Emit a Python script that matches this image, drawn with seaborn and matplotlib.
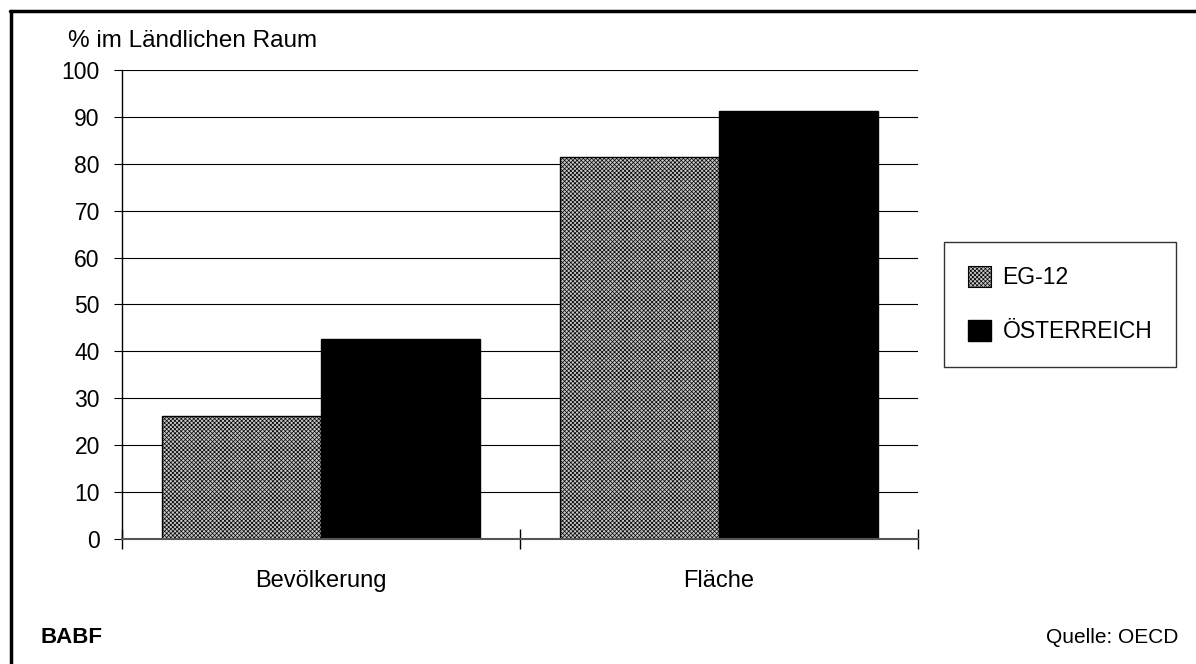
import matplotlib
matplotlib.use("Agg")
from matplotlib import pyplot as plt
from matplotlib.patches import Patch
from matplotlib.lines import Line2D
import pandas as pd
import seaborn as sns

# data
kategorien = ["Bevölkerung", "Fläche"]
gruppen = ["EG-12", "ÖSTERREICH"]
eg12 = [26.2, 81.5]
oesterreich = [42.6, 91.2]
y_ticks = [0, 10, 20, 30, 40, 50, 60, 70, 80, 90, 100]

df = pd.DataFrame({
    "Kategorie": kategorien * 2,
    "Gruppe": [gruppen[0]] * 2 + [gruppen[1]] * 2,
    "Wert": eg12 + oesterreich,
})

sns.set_theme(style="white")
plt.rcParams["font.family"] = ["Liberation Sans", "DejaVu Sans"]
plt.rcParams["text.color"] = "black"
plt.rcParams["xtick.color"] = "black"
plt.rcParams["ytick.color"] = "black"
plt.rcParams["hatch.linewidth"] = 0.5
plt.rcParams["hatch.color"] = "black"

fig = plt.figure(figsize=(11.96, 6.64), dpi=100)
ax = fig.add_axes([0.102, 0.1883, 0.6656, 0.7063])

sns.barplot(data=df, x="Kategorie", y="Wert", hue="Gruppe", order=kategorien,
            hue_order=gruppen, palette=["white", "black"], width=0.8,
            edgecolor="black", linewidth=1, saturation=1, legend=False, ax=ax)

for bar in ax.containers[0]:
    bar.set_hatch("xxxxxxxx")
    bar.set_facecolor("#c8c8c8")

ax.set_xlim(-0.5, 1.5)
ax.set_ylim(0, 100)
ax.set_yticks(y_ticks)
ax.yaxis.grid(True, color="black", linewidth=0.8)
ax.set_axisbelow(True)
ax.tick_params(axis="y", which="major", left=True, length=6, width=0.8,
               color="black", labelsize=16.5, pad=10)

# category boundaries as major ticks, names as minor labels
ax.set_xticks([-0.5, 0.5, 1.5])
ax.set_xticklabels(["", "", ""])
ax.set_xticks([0, 1], minor=True)
ax.set_xticklabels(kategorien, minor=True)
ax.tick_params(axis="x", which="major", bottom=True, direction="inout",
               length=14, width=1, color="black")
ax.tick_params(axis="x", which="minor", bottom=False, length=0,
               labelsize=17, pad=22)
ax.set_xlabel("")
ax.set_ylabel("")

for s in ["top", "right"]:
    ax.spines[s].set_visible(False)
ax.spines["left"].set_color("black")
ax.spines["left"].set_linewidth(1)
ax.spines["bottom"].set_color("#555555")
ax.spines["bottom"].set_linewidth(1.5)

fig.text(68 / 1196, 1 - 47 / 664, "% im Ländlichen Raum", fontsize=17.5,
         ha="left", va="baseline")
fig.text(40 / 1196, 1 - 643 / 664, "BABF", fontsize=16, fontweight="bold",
         ha="left", va="baseline")
fig.text(1178 / 1196, 1 - 643 / 664, "Quelle: OECD", fontsize=15,
         ha="right", va="baseline")

handles = [Patch(facecolor="#c8c8c8", edgecolor="black", hatch="xxxxxxxx", linewidth=0.8),
           Patch(facecolor="black", edgecolor="black")]
leg = fig.legend(handles, gruppen, loc="upper left",
                 bbox_to_anchor=(944 / 1196, 1 - 242 / 664),
                 bbox_transform=fig.transFigure, fontsize=16.5,
                 frameon=True, fancybox=False, shadow=False,
                 handlelength=1.0, handleheight=1.0, handletextpad=0.5,
                 labelspacing=1.35, borderpad=1.05, borderaxespad=0)
leg.get_frame().set_edgecolor("black")
leg.get_frame().set_linewidth(1)

# outer frame (top and left edges only visible)
fig.add_artist(Line2D([10 / 1196, 1], [1 - 11 / 664] * 2, color="black",
                      linewidth=2.5, transform=fig.transFigure))
fig.add_artist(Line2D([11 / 1196] * 2, [0, 1 - 11 / 664], color="black",
                      linewidth=2.5, transform=fig.transFigure))

fig.savefig("out.png", dpi=100)
